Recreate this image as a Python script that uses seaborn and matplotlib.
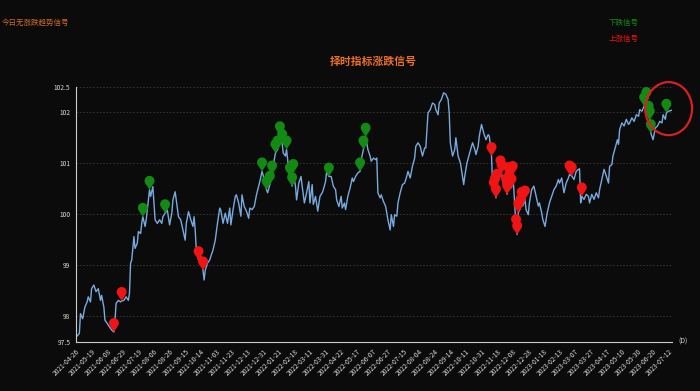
import numpy as np
import pandas as pd
import matplotlib.pyplot as plt
import seaborn as sns
from matplotlib.path import Path
from matplotlib.patches import Ellipse

# 交易日序号 (0 = 2021-04-26) 和收盘值
days = [0, 3, 4, 6, 8, 10, 11, 13, 14, 16, 18, 20, 22, 23, 25, 26, 28, 30, 32, 34,
        35, 36, 38, 40, 41, 43, 45, 47, 48, 49, 50, 52, 53, 55, 56, 58, 59, 60, 62, 63,
        65, 66, 67, 69, 70, 71, 73, 75, 77, 78, 80, 82, 84, 86, 87, 89, 90, 92, 94, 96,
        98, 99, 101, 103, 105, 106, 107, 108, 110, 112, 114, 115, 116, 118, 120, 121, 123, 125, 127, 129,
        130, 132, 134, 136, 138,
        139, 141, 143, 144, 146, 148, 149, 151, 153, 155, 156, 158, 160, 162, 164, 165, 167, 169, 171, 172,
        174, 176, 177, 179, 181, 183, 185, 186, 188, 189, 191, 192, 194, 195, 197, 198, 200, 202, 203, 205,
        207, 209, 210, 212, 213, 215, 217, 219, 221, 222, 224, 225, 227, 229, 231, 233, 234, 236, 238, 239,
        241, 242, 244, 246, 248, 249, 251, 253, 255, 256, 258, 260, 262, 264, 265, 267, 269, 270, 271, 273,
        274, 276, 278, 280, 282,
        283, 285, 286, 288, 289, 291, 293, 295, 297, 298, 300, 302, 304, 305, 307, 309, 311, 313, 314, 316,
        318, 320, 322, 323, 325, 326, 328, 330, 332, 334, 335, 336, 338, 340, 341, 343, 345, 346, 348, 349,
        351, 353, 355, 356, 358, 359, 361, 362, 364, 366, 368, 370, 371, 373, 374, 375, 376, 377, 378, 380,
        381, 382, 384, 386, 387, 388, 389, 391, 392, 393, 395, 396, 397, 399, 400, 401, 403, 404, 406, 407,
        409, 411, 413, 415, 416, 418, 419, 421, 423, 425,
        427, 429, 431, 433, 434, 436, 438, 440, 442, 443, 445, 447, 449, 451, 452, 453, 454, 456, 458, 460,
        461, 463, 465, 467, 469, 470, 472, 474, 476, 478, 479, 481, 482, 484, 486, 487, 488, 490, 492, 494,
        496, 497, 499, 501, 503, 505, 506, 508, 510, 512, 513, 514, 515, 516, 518, 520, 522, 524, 526, 527,
        529, 530, 532, 535]
closes = [97.59, 97.66, 98.05, 97.95, 98.18, 98.28, 98.38, 98.28, 98.54, 98.61, 98.48, 98.54, 98.31, 98.41, 98.18, 97.92, 97.86, 97.79, 97.73, 97.69,
          97.92, 98.25, 98.31, 98.28, 98.30, 98.31, 98.38, 98.31, 98.45, 99.04, 99.10, 99.56, 99.33, 99.43, 99.66, 99.62, 99.82, 99.95, 99.76, 99.89,
          100.28, 100.48, 100.35, 100.54, 100.21, 99.89, 99.82, 99.89, 99.82, 99.95, 100.02, 100.08, 99.79, 100.02, 100.28, 100.44, 100.28, 99.95, 99.89, 99.69,
          99.49, 99.82, 100.05, 99.89, 99.76, 99.95, 99.69, 99.30, 99.10, 99.17, 98.90, 98.71, 98.90, 99.04, 99.10, 99.17, 99.30, 99.49, 99.82, 100.12,
          100.08, 99.82, 100.02, 99.82, 100.12,
          99.79, 100.09, 100.35, 100.38, 100.22, 99.96, 100.38, 100.15, 100.06, 99.92, 100.12, 100.09, 100.15, 100.38, 100.55, 100.64, 100.84, 100.68, 100.48, 100.42,
          100.58, 100.78, 100.94, 101.20, 101.27, 101.55, 101.40, 101.20, 101.14, 101.27, 100.87, 100.74, 100.55, 100.81, 100.55, 100.28, 100.61, 100.74, 100.55, 100.22,
          100.42, 100.64, 100.22, 100.58, 100.19, 100.35, 100.06, 100.35, 100.42, 100.48, 100.64, 100.84, 100.74, 100.74, 100.55, 100.48, 100.28, 100.15, 100.35, 100.12,
          100.22, 100.09, 100.35, 100.51, 100.71, 100.64, 100.74, 100.81, 100.84, 101.07, 101.27, 101.52, 101.27, 101.14, 101.04, 101.10, 101.07, 101.10, 100.42, 100.32,
          100.38, 100.25, 100.15, 99.89, 99.69,
          99.99, 99.76, 99.99, 99.96, 100.22, 100.42, 100.58, 100.61, 100.75, 100.84, 100.71, 100.94, 101.10, 101.33, 101.40, 101.33, 101.14, 101.30, 101.30, 101.99,
          102.05, 102.18, 102.15, 102.05, 101.95, 102.18, 102.25, 102.38, 102.35, 102.25, 101.99, 101.40, 101.14, 101.27, 101.50, 101.14, 101.01, 100.88, 100.58, 100.75,
          101.01, 101.17, 101.33, 101.40, 101.27, 101.17, 101.33, 101.53, 101.76, 101.59, 101.46, 101.56, 101.53, 101.14, 100.55, 100.45, 100.52, 100.32, 100.62, 100.70,
          100.88, 100.80, 100.55, 100.52, 100.39, 100.75, 100.61, 100.52, 100.77, 100.50, 99.73, 99.60, 100.03, 100.12, 100.26, 100.16, 100.29, 100.09, 99.99, 100.22,
          100.48, 100.55, 100.35, 100.16, 100.22, 100.03, 99.90, 99.76, 100.03, 100.22,
          100.35, 100.48, 100.55, 100.68, 100.61, 100.71, 100.42, 100.61, 100.71, 100.78, 100.75, 100.68, 100.84, 100.88, 100.89, 100.22, 100.35, 100.29, 100.39, 100.35,
          100.22, 100.39, 100.29, 100.42, 100.32, 100.48, 100.68, 100.88, 100.75, 100.61, 100.94, 100.97, 101.14, 101.30, 101.46, 101.37, 101.66, 101.79, 101.73, 101.86,
          101.76, 101.79, 101.89, 101.82, 101.95, 101.92, 102.05, 102.02, 102.12, 102.22, 102.05, 101.95, 101.85, 101.59, 101.46, 101.69, 101.73, 101.82, 101.79, 101.95,
          101.86, 101.99, 102.02, 102.04]

# 信号出现的交易日
down_days = [60, 66, 80, 167, 171, 174, 176, 179, 181, 183, 185, 189, 192, 194, 195,
             227, 255, 258, 260, 510, 512, 514, 515, 516, 530]
up_days = [34, 41, 110, 114, 373, 375, 376, 377, 378, 381, 382, 386, 387, 388, 389,
           391, 392, 395, 396, 397, 399, 400, 403, 443, 445, 454]

date_labels = ['2021-04-26', '2021-05-19', '2021-06-08', '2021-06-29', '2021-07-19', '2021-08-06',
               '2021-08-26', '2021-09-15', '2021-10-14', '2021-11-03', '2021-11-23', '2021-12-13',
               '2021-12-31', '2022-01-21', '2022-02-18', '2022-03-11', '2022-03-31', '2022-04-22',
               '2022-05-17', '2022-06-07', '2022-06-27', '2022-07-15', '2022-08-04', '2022-08-24',
               '2022-09-14', '2022-10-11', '2022-10-31', '2022-11-18', '2022-12-08', '2022-12-28',
               '2023-01-18', '2023-02-13', '2023-03-07', '2023-03-27', '2023-04-17', '2023-05-10',
               '2023-05-30', '2023-06-20', '2023-07-12']
y_ticks = [97.5, 98, 99, 100, 101, 102, 102.5]
y_labels = ['97.5', '98', '99', '100', '101', '102', '102.5']

sns.set_style('dark')
plt.rcParams['font.family'] = ['Noto Sans CJK SC', 'DejaVu Sans']
plt.rcParams['axes.unicode_minus'] = False

bg = '#0b0b0b'
palette = {'下跌信号': '#138a13', '上涨信号': '#f01414'}

df = pd.DataFrame({'day': days, 'close': closes})
close_map = dict(zip(days, closes))
sig = pd.DataFrame({'day': down_days + up_days,
                    'kind': ['下跌信号'] * len(down_days) + ['上涨信号'] * len(up_days)})
sig['close'] = sig['day'].map(close_map)

# 气泡形标记 (尖端在数据点上)
c = 1.8
a = np.degrees(np.arccos(1 / c))
t = np.radians(np.linspace(-90 + a, 270 - a, 50))
pin = Path([(0, 0)] + list(zip(np.cos(t), c + np.sin(t))) + [(0, 0)], closed=True)

fig = plt.figure(figsize=(7, 3.91), dpi=100)
fig.patch.set_facecolor(bg)
ax = fig.add_axes([76 / 700, 1 - 341.7 / 391, 596 / 700, 255 / 391])
ax.set_facecolor(bg)

sns.lineplot(data=df, x='day', y='close', ax=ax, color='#78aade', linewidth=1.0)
sns.scatterplot(data=sig, x='day', y='close', hue='kind', palette=palette, marker=pin,
                s=400, edgecolor='none', linewidth=0, legend=False, ax=ax, zorder=3)

# 最新信号的红圈标注
last_day, last_close = down_days[-1], close_map[down_days[-1]]
ax.add_patch(Ellipse((last_day + 2, last_close + 0.08), width=42, height=1.04,
                     fill=False, edgecolor='#d82020', linewidth=1.6, clip_on=False, zorder=5))

ax.set_xlim(0, days[-1])
ax.set_ylim(y_ticks[0], y_ticks[-1])
ax.set_xticks(range(0, 14 * len(date_labels), 14))
ax.set_xticklabels(date_labels, rotation=45, ha='right', rotation_mode='anchor',
                   fontsize=4.8, color='#d8d8d8')
ax.set_yticks(y_ticks)
ax.set_yticklabels(y_labels, fontsize=4.8, color='#d8d8d8')
ax.tick_params(axis='x', length=2.5, width=0.6, color='#bbbbbb', pad=2)
ax.tick_params(axis='y', length=2.5, width=0.6, color='#bbbbbb', pad=1.5)
ax.set_xlabel('')
ax.set_ylabel('')
ax.grid(False)
ax.grid(axis='y', linestyle=(0, (2, 2)), color='#3a3a3a', linewidth=0.6)
for side in ['top', 'right']:
    ax.spines[side].set_visible(False)
for side in ['left', 'bottom']:
    ax.spines[side].set_visible(True)
    ax.spines[side].set_color('#cccccc')
    ax.spines[side].set_linewidth(0.8)

fig.text(2 / 700, 1 - 23 / 391, '今日无涨跌趋势信号', color='#d06a2a', fontsize=5.4,
         ha='left', va='center')
fig.text(373 / 700, 1 - 62 / 391, '择时指标涨跌信号', color='#ea6f2a', fontsize=7.8,
         fontweight='bold', ha='center', va='center')
fig.text(609 / 700, 1 - 22.7 / 391, '下跌信号', color=palette['下跌信号'], fontsize=5.4,
         ha='left', va='center')
fig.text(609 / 700, 1 - 39.3 / 391, '上涨信号', color=palette['上涨信号'], fontsize=5.4,
         ha='left', va='center')
fig.text(678 / 700, 1 - 342 / 391, '(D)', color='#d8d8d8', fontsize=5, ha='left', va='center')

plt.savefig('out.png', dpi=100, facecolor=fig.get_facecolor())
